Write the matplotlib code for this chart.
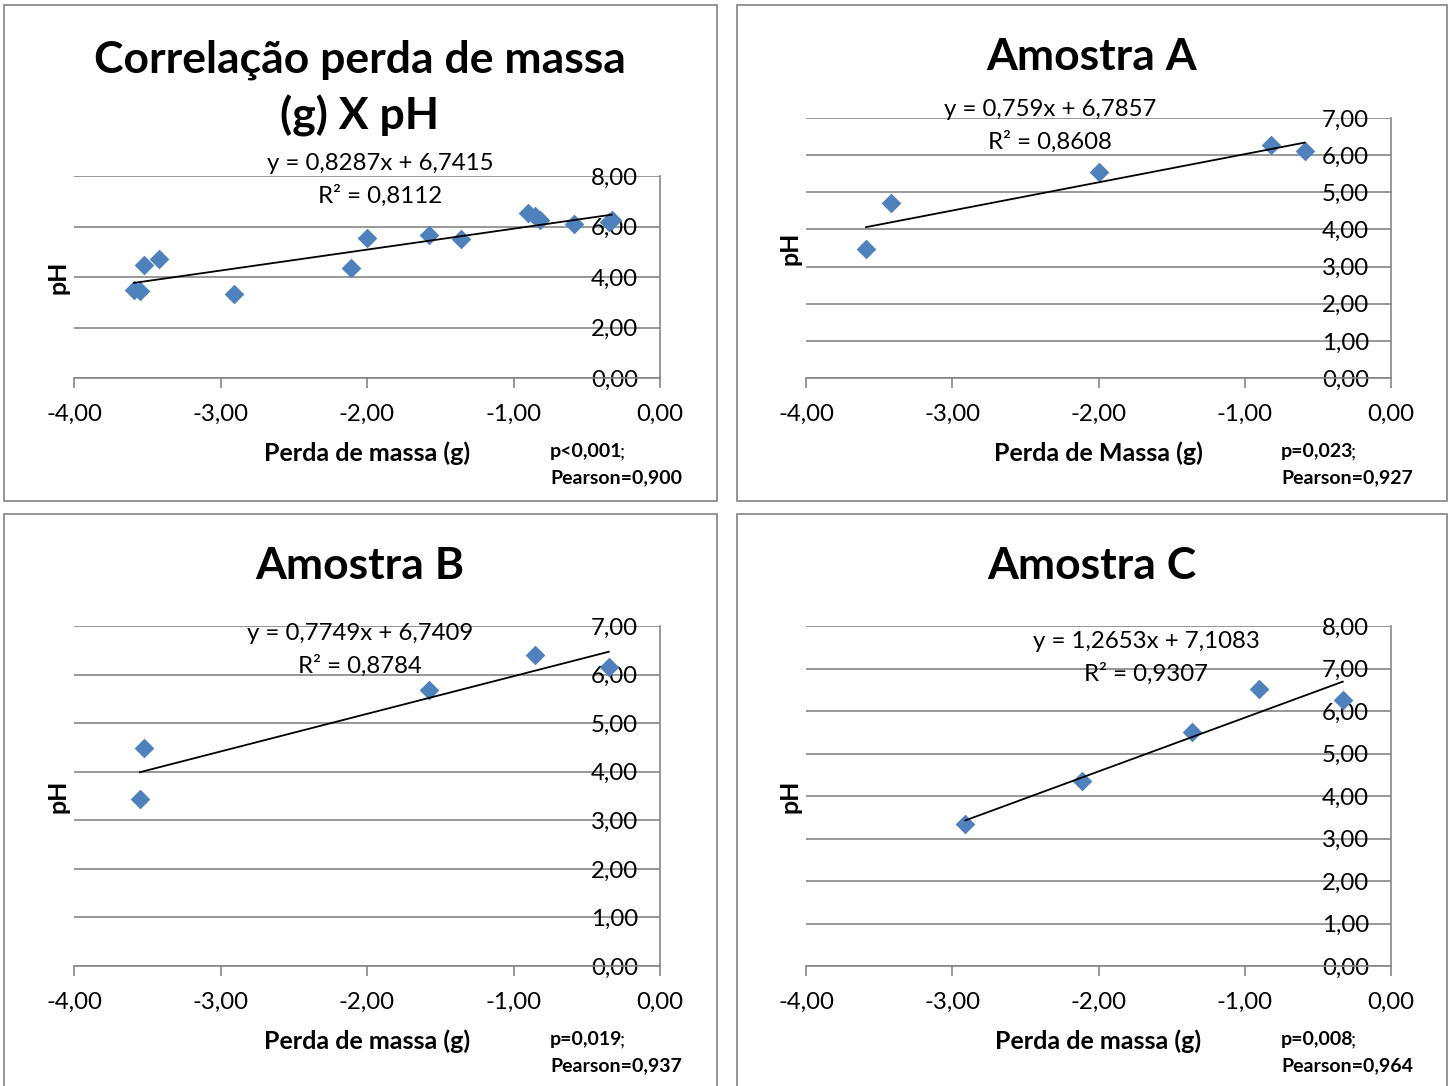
#
# Correlation of mass loss (g) and pH - combined and per sample
#

import matplotlib
matplotlib.use('Agg')
from matplotlib import pyplot as plt
from matplotlib.patches import Rectangle
from matplotlib.ticker import FuncFormatter, MultipleLocator

plt.rcParams['font.family'] = ['Lato', 'DejaVu Sans']

W, H = 1451, 1086

# perda de massa (g) and pH for each sample
massa_a = [-3.59, -3.42, -2.00, -0.82, -0.59]
ph_a = [3.47, 4.71, 5.55, 6.27, 6.11]
massa_b = [-3.55, -3.52, -1.58, -0.85, -0.35]
ph_b = [3.44, 4.49, 5.68, 6.40, 6.16]
massa_c = [-2.91, -2.11, -1.36, -0.90, -0.33]
ph_c = [3.34, 4.35, 5.51, 6.52, 6.26]

massa_all = massa_a + massa_b + massa_c
ph_all = ph_a + ph_b + ph_c

# linear trendlines: slope, intercept, R2
fit_all = (0.8287, 6.7415, 0.8112)
fit_a = (0.759, 6.7857, 0.8608)
fit_b = (0.7749, 6.7409, 0.8784)
fit_c = (1.2653, 7.1083, 0.9307)

p_values = ['p<0,001', 'p=0,023', 'p=0,019', 'p=0,008']
pearson = [0.900, 0.927, 0.937, 0.964]

titles = ['Correlação perda de massa\n(g) X pH', 'Amostra A', 'Amostra B', 'Amostra C']
xlabels = ['Perda de massa (g)', 'Perda de Massa (g)', 'Perda de massa (g)', 'Perda de massa (g)']
ymax = [8, 7, 7, 8]
ystep = [2, 1, 1, 1]

BLUE = '#4F81BD'
GREY = '#868686'
SMALL = 17.3
LABEL = 18
NOTE = 14
TITLE = 32


def fx(px):
    return px / W


def fy(py):
    return 1 - py / H


def comma(v, fmt):
    return fmt.format(v).replace('.', ',')


def eqText(fit):
    m, b, r2 = fit
    sign = '+' if b >= 0 else '-'
    return 'y = {}x {} {}\nR² = {}'.format(comma(m, '{:g}'), sign, comma(abs(b), '{:g}'), comma(r2, '{:g}'))


def drawPanel(fig, box, axbox, xs, ys, fit, i, title_y, eq_xy):
    # panel frame
    x0, y0, x1, y1 = box
    fig.add_artist(Rectangle((fx(x0), fy(y1)), fx(x1 - x0), (y1 - y0) / H,
                             transform=fig.transFigure, fill=False,
                             edgecolor='#8c8c8c', lw=1.3))

    l, t, r, b = axbox
    ax = fig.add_axes([fx(l), fy(b), fx(r - l), (b - t) / H])
    ax.set_xlim(-4, 0)
    ax.set_ylim(0, ymax[i])

    ax.scatter(xs, ys, marker='D', s=100, color=BLUE, linewidths=0, zorder=3)
    m, c, r2 = fit
    lo, hi = min(xs), max(xs)
    ax.plot([lo, hi], [m * lo + c, m * hi + c], color='black', lw=1.3, zorder=4)

    # value axis sits at x = 0 like the spreadsheet layout
    for s in ['top', 'right']:
        ax.spines[s].set_visible(False)
    ax.spines['left'].set_position(('data', 0))
    ax.spines['left'].set_color(GREY)
    ax.spines['left'].set_linewidth(1.2)
    ax.spines['bottom'].set_color(GREY)
    ax.spines['bottom'].set_linewidth(1.2)

    ax.xaxis.set_major_locator(MultipleLocator(1))
    ax.yaxis.set_major_locator(MultipleLocator(ystep[i]))
    ax.xaxis.set_major_formatter(FuncFormatter(lambda v, p: comma(v, '{:.2f}')))
    ax.yaxis.set_major_formatter(FuncFormatter(lambda v, p: comma(v, '{:.2f}')))
    ax.tick_params(axis='x', direction='out', length=7.5, width=1.2, color=GREY,
                   labelsize=SMALL, pad=11)
    ax.tick_params(axis='y', length=0, labelsize=SMALL, pad=16)
    ax.grid(axis='y', color=GREY, lw=1.2)
    ax.set_axisbelow(True)
    ax.patch.set_visible(False)

    cx = (l + r) / 2
    fig.text(fx(cx - 7), fy(title_y), titles[i], ha='center', va='center',
             fontsize=TITLE, fontweight='bold', linespacing=1.42)
    fig.text(fx(eq_xy[0]), fy(eq_xy[1]), eqText(fit), ha='center', va='center',
             fontsize=SMALL, linespacing=1.58)
    fig.text(fx(cx), fy(b + 75), xlabels[i], ha='center', va='center',
             fontsize=LABEL, fontweight='bold')
    fig.text(fx(l - 16), fy((t + b) / 2), 'pH', ha='center', va='center',
             rotation=90, fontsize=LABEL, fontweight='bold')

    pt = ax.annotate(p_values[i], xy=(fx(r - 110), fy(b + 74)), xycoords='figure fraction',
                     ha='left', va='center', fontsize=NOTE, fontweight='bold')
    ax.annotate(';', xy=(1, 0), xycoords=pt, xytext=(-2, 0), textcoords='offset points',
                ha='left', va='bottom', fontsize=NOTE)
    ax.annotate('Pearson=' + comma(pearson[i], '{:.3f}'), xy=(fx(r - 110), fy(b + 100)),
                xycoords='figure fraction', ha='left', va='center',
                fontsize=NOTE, fontweight='bold')
    return ax


fig = plt.figure(figsize=(W / 100, H / 100), dpi=100)

drawPanel(fig, (4, 5, 717, 501), (74, 176, 660, 378), massa_all, ph_all, fit_all, 0, 88, (380, 180))
drawPanel(fig, (737, 5, 1447, 501), (806, 118, 1391, 378), massa_a, ph_a, fit_a, 1, 57, (1050, 126))
drawPanel(fig, (4, 514, 717, 1090), (74, 626, 660, 966), massa_b, ph_b, fit_b, 2, 566, (360, 650))
drawPanel(fig, (737, 514, 1447, 1090), (806, 626, 1391, 966), massa_c, ph_c, fit_c, 3, 566, (1146, 658))

plt.savefig('out.png', dpi=100)
